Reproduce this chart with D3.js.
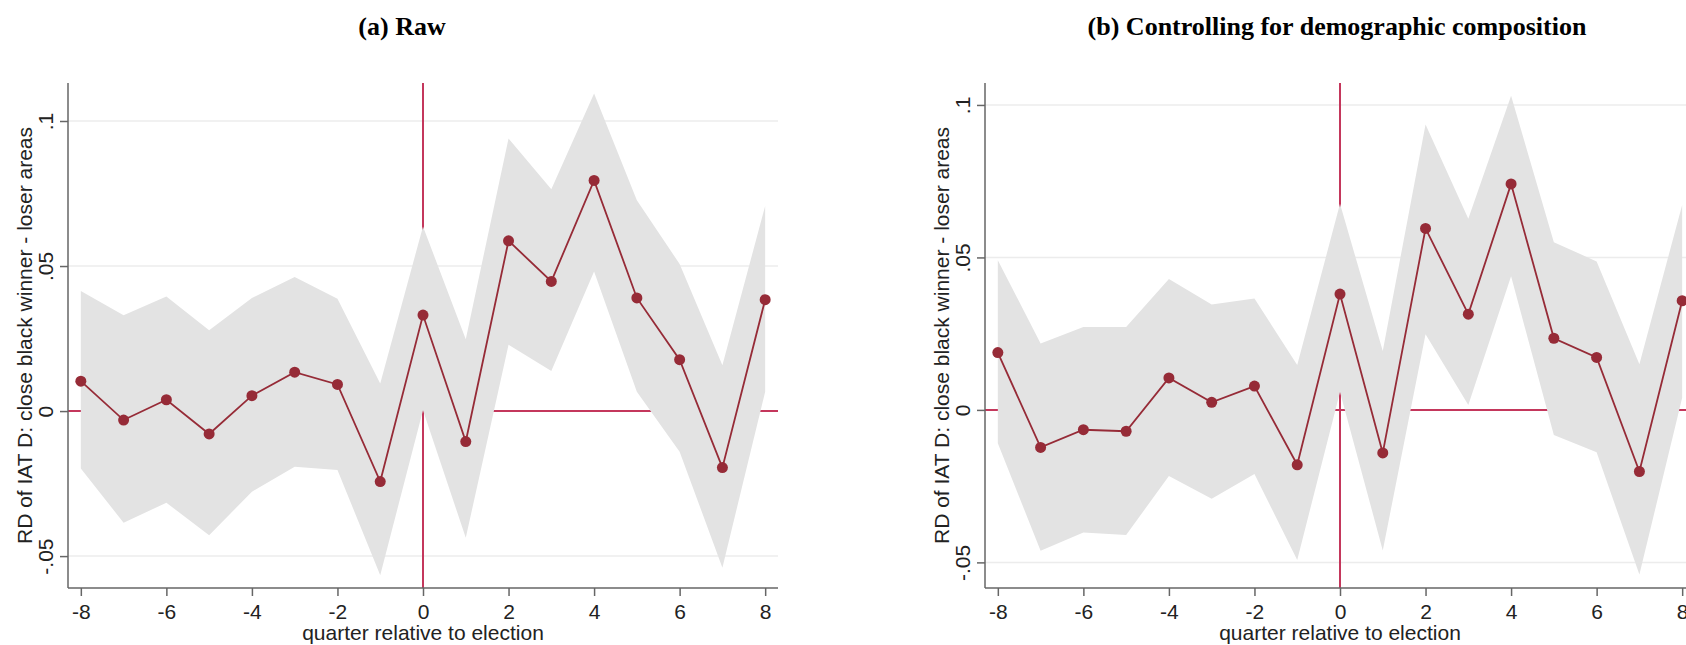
<!DOCTYPE html>
<html>
<head>
<meta charset="utf-8">
<script src="https://cdn.jsdelivr.net/npm/d3@7"></script>
<style>
  html, body { margin: 0; padding: 0; background: #fff; }
  svg { display: block; }
  .tick text { font-family: "Liberation Sans", Arial, sans-serif; font-size: 21px; fill: #222; }
</style>
</head>
<body>
<svg id="chart" width="1686" height="645"></svg>
<script>
/* Event-study RD panels: raw vs. controlling for demographics */

// ── Data ────────────────────────────────────────
const quarters = [-8, -7, -6, -5, -4, -3, -2, -1, 0, 1, 2, 3, 4, 5, 6, 7, 8];

// (a) Raw
const rawEst = [0.0103, -0.0031, 0.0039, -0.0079, 0.0053, 0.0134, 0.0092, -0.0243, 0.0331,
                -0.0105, 0.0587, 0.0447, 0.0795, 0.0390, 0.0177, -0.0195, 0.0384];
const rawHi  = [0.0414, 0.0330, 0.0395, 0.0279, 0.0390, 0.0462, 0.0387, 0.0095, 0.0636,
                0.0248, 0.0940, 0.0765, 0.1095, 0.0727, 0.0507, 0.0158, 0.0707];
const rawLo  = [-0.0198, -0.0385, -0.0316, -0.0428, -0.0278, -0.0192, -0.0203, -0.0566, 0.0003,
                -0.0437, 0.0229, 0.0138, 0.0481, 0.0067, -0.0140, -0.0540, 0.0067];

// (b) Controlling for demographic composition
const ctrlEst = [0.0188, -0.0123, -0.0065, -0.0070, 0.0105, 0.0025, 0.0078, -0.0180, 0.0380,
                 -0.0141, 0.0595, 0.0314, 0.0741, 0.0235, 0.0172, -0.0202, 0.0358];
const ctrlHi  = [0.0491, 0.0218, 0.0272, 0.0272, 0.0429, 0.0346, 0.0365, 0.0147, 0.0676,
                 0.0193, 0.0936, 0.0627, 0.1030, 0.0550, 0.0487, 0.0150, 0.0672];
const ctrlLo  = [-0.0109, -0.0462, -0.0402, -0.0410, -0.0217, -0.0291, -0.0210, -0.0492, 0.0059,
                 -0.0461, 0.0248, 0.0016, 0.0438, -0.0082, -0.0139, -0.0540, 0.0040];

const yTickVals   = [-0.05, 0, 0.05, 0.1];
const yTickLabels = ['-.05', '0', '.05', '.1'];
const gridVals    = [-0.05, 0.05, 0.1];
const xTickVals   = [-8, -6, -4, -2, 0, 2, 4, 6, 8];

const panelTitles = ['(a) Raw', '(b) Controlling for demographic composition'];
const yTitle = 'RD of IAT D: close black winner - loser areas';
const xTitle = 'quarter relative to election';

// axis ranges per panel (Stata picks them from the data)
const rawYDomain  = [-0.0610, 0.1131];
const ctrlYDomain = [-0.0584, 0.1072];
const xDomain     = [-8.3, 8.3];

// ── Style ───────────────────────────────────────
const bandColor  = '#e3e3e3';
const estColor   = '#962b37';
const refColor   = '#c4375c';
const gridColor  = '#ececec';
const axisColor  = '#666666';
const sansFont   = '"Liberation Sans", Arial, sans-serif';
const serifFont  = '"Liberation Serif", "Times New Roman", serif';

const svg = d3.select('#chart');

const panels = [
  { title: panelTitles[0], est: rawEst,  lo: rawLo,  hi: rawHi,  yDomain: rawYDomain,
    left: 68,  right: 778,  titleX: 402 },
  { title: panelTitles[1], est: ctrlEst, lo: ctrlLo, hi: ctrlHi, yDomain: ctrlYDomain,
    left: 985, right: 1695, titleX: 1337 }
];

const plotTop = 83, plotBottom = 588;

panels.forEach(p => {
  const rows = quarters.map((q, i) => ({ q, est: p.est[i], lo: p.lo[i], hi: p.hi[i] }));

  const x = d3.scaleLinear().domain(xDomain).range([p.left, p.right]);
  const y = d3.scaleLinear().domain(p.yDomain).range([plotBottom, plotTop]);

  const g = svg.append('g');

  // panel title
  svg.append('text')
    .attr('x', p.titleX)
    .attr('y', 35)
    .attr('text-anchor', 'middle')
    .attr('font-family', serifFont)
    .attr('font-weight', 'bold')
    .attr('font-size', 26)
    .attr('fill', '#000')
    .text(p.title);

  // gridlines
  g.selectAll('.grid')
    .data(gridVals)
    .enter()
    .append('line')
    .attr('x1', p.left)
    .attr('x2', p.right)
    .attr('y1', d => y(d))
    .attr('y2', d => y(d))
    .attr('stroke', gridColor)
    .attr('stroke-width', 1.5);

  // reference lines at 0
  g.append('line')
    .attr('x1', p.left).attr('x2', p.right)
    .attr('y1', y(0)).attr('y2', y(0))
    .attr('stroke', refColor)
    .attr('stroke-width', 2);

  g.append('line')
    .attr('x1', x(0)).attr('x2', x(0))
    .attr('y1', plotTop).attr('y2', plotBottom)
    .attr('stroke', refColor)
    .attr('stroke-width', 2);

  // confidence band
  const area = d3.area()
    .x(d => x(d.q))
    .y0(d => y(d.lo))
    .y1(d => y(d.hi));

  g.append('path')
    .datum(rows)
    .attr('d', area)
    .attr('fill', bandColor);

  // point estimates
  const line = d3.line()
    .x(d => x(d.q))
    .y(d => y(d.est));

  g.append('path')
    .datum(rows)
    .attr('d', line)
    .attr('fill', 'none')
    .attr('stroke', estColor)
    .attr('stroke-width', 1.8);

  g.selectAll('.pt')
    .data(rows)
    .enter()
    .append('circle')
    .attr('cx', d => x(d.q))
    .attr('cy', d => y(d.est))
    .attr('r', 5.5)
    .attr('fill', estColor);

  // ── Axes ─────────────────────────────────────
  const yAxis = d3.axisLeft(y)
    .tickValues(yTickVals)
    .tickFormat((d, i) => yTickLabels[i])
    .tickSize(8)
    .tickSizeOuter(0);

  const yg = g.append('g')
    .attr('transform', `translate(${p.left},0)`)
    .call(yAxis);

  yg.select('.domain').attr('d', `M0,${plotTop}V${plotBottom}`);
  yg.selectAll('.tick text')
    .attr('x', null)
    .attr('dy', null)
    .attr('text-anchor', 'middle')
    .attr('transform', 'translate(-15,0) rotate(-90)');

  // plain hyphen for negatives, as in the original
  const xAxis = d3.axisBottom(x)
    .tickValues(xTickVals)
    .tickFormat(d => String(d))
    .tickSize(8)
    .tickSizeOuter(0);

  const xg = g.append('g')
    .attr('transform', `translate(0,${plotBottom})`)
    .call(xAxis);

  xg.select('.domain').attr('d', `M${p.left},0H${p.right}`);
  xg.selectAll('.tick text')
    .attr('y', 31)
    .attr('dy', null);

  [yg, xg].forEach(a => {
    a.select('.domain').attr('stroke', axisColor).attr('stroke-width', 1.5);
    a.selectAll('.tick line').attr('stroke', axisColor).attr('stroke-width', 1.5);
  });

  // axis titles
  g.append('text')
    .attr('transform', `translate(${p.left - 36},${(plotTop + plotBottom) / 2}) rotate(-90)`)
    .attr('text-anchor', 'middle')
    .attr('font-family', sansFont)
    .attr('font-size', 21)
    .attr('fill', '#222')
    .text(yTitle);

  g.append('text')
    .attr('x', (p.left + p.right) / 2)
    .attr('y', 640)
    .attr('text-anchor', 'middle')
    .attr('font-family', sansFont)
    .attr('font-size', 21)
    .attr('fill', '#222')
    .text(xTitle);
});
</script>
</body>
</html>
